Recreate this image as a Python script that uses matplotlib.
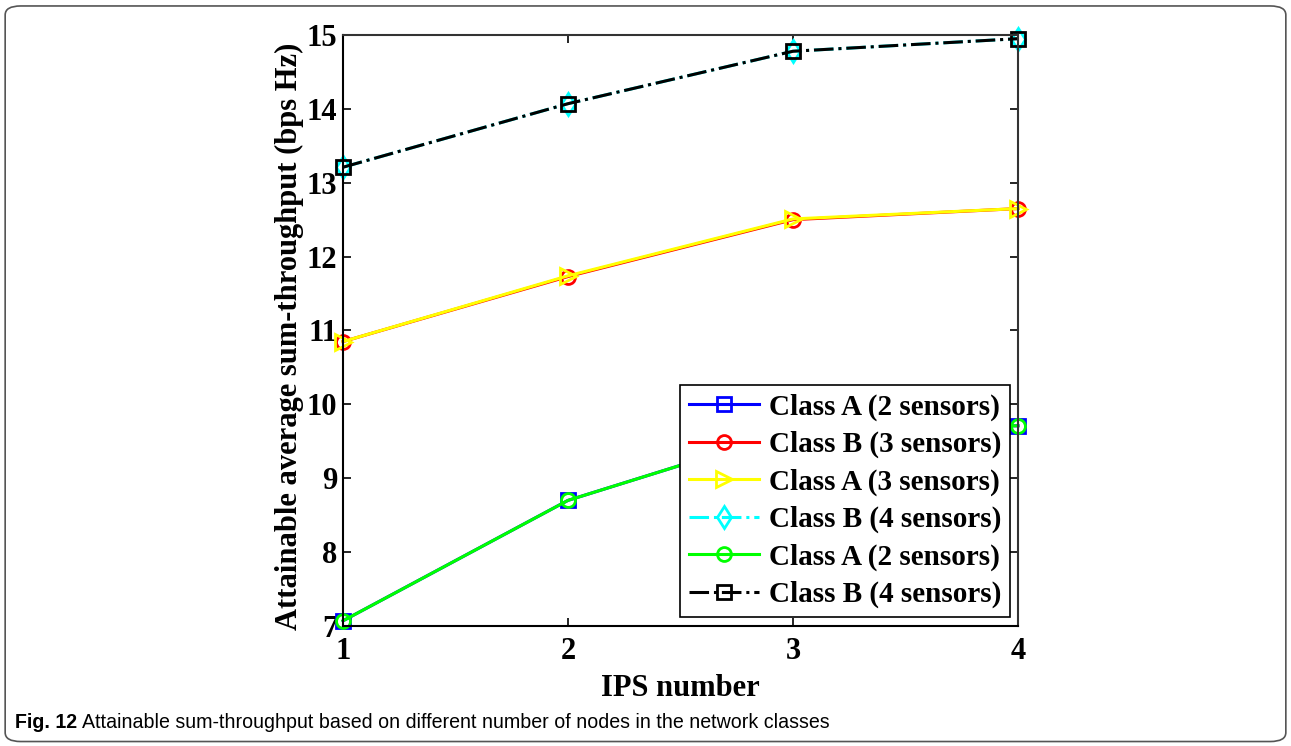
import matplotlib
matplotlib.use('Agg')
import matplotlib.pyplot as plt
from matplotlib.patches import FancyBboxPatch

# data
ips = [1, 2, 3, 4]
class_a_2 = [7.07, 8.70, 9.65, 9.71]
class_b_3 = [10.85, 11.73, 12.50, 12.65]
class_a_3 = [10.85, 11.74, 12.51, 12.65]
class_b_4 = [13.21, 14.07, 14.78, 14.95]
yticks = [7, 8, 9, 10, 11, 12, 13, 14, 15]

labels = ['Class A (2 sensors)', 'Class B (3 sensors)', 'Class A (3 sensors)',
          'Class B (4 sensors)', 'Class A (2 sensors)', 'Class B (4 sensors)']

plt.rcParams['font.family'] = ['Liberation Serif', 'DejaVu Serif']
plt.rcParams['font.weight'] = 'bold'

fig = plt.figure(figsize=(12.91, 7.46), dpi=100)
ax = fig.add_axes([0.2657, 0.1609, 0.5228, 0.7922])

lw = 2.2
ms = 10
mew = 2
common = dict(lw=lw, mew=mew, mfc='none', clip_on=False)
ax.plot(ips, class_a_2, color='#0000ff', marker='s', ls='-', ms=ms, label=labels[0], **common)
ax.plot(ips, class_b_3, color='#ff0000', marker='o', ls='-', ms=ms, label=labels[1], **common)
ax.plot(ips, class_a_3, color='#ffff00', marker='>', ls='-', ms=ms + 2, label=labels[2], **common)
ax.plot(ips, class_b_4, color='#00ffff', marker='d', ls='-.', ms=ms + 1.5, label=labels[3], **common)
ax.plot(ips, class_a_2, color='#00ff00', marker='o', ls='-', ms=ms, label=labels[4], **common)
ax.plot(ips, class_b_4, color='black', marker='s', ls='-.', ms=ms, label=labels[5], **common)

ax.set_xlim(1, 4)
ax.set_ylim(7, 15)
ax.set_xticks(ips)
ax.set_yticks(yticks)
ax.tick_params(direction='in', top=True, right=True, labelsize=22, length=6,
               width=1.2, pad=8)
ax.tick_params(axis='y', pad=4)
for t in ax.get_xticklabels() + ax.get_yticklabels():
    t.set_fontweight('bold')
for s in ax.spines.values():
    s.set_linewidth(1.5)
    s.set_color('#333333')
ax.spines['left'].set_color('black')
ax.spines['bottom'].set_color('black')

ax.set_xlabel('IPS number', fontsize=22, fontweight='bold', labelpad=6)
ax.set_ylabel('Attainable average sum-throughput (bps Hz)', fontsize=22,
              fontweight='bold')
ax.yaxis.set_label_coords(-0.058, 0.49)

leg = ax.legend(loc='lower right', bbox_to_anchor=(0.988, 0.015),
                prop={'weight': 'bold', 'size': 21}, frameon=True, fancybox=False,
                framealpha=1, handlelength=2.4, handletextpad=0.35, labelspacing=0.35,
                borderpad=0.3, borderaxespad=0)
leg.get_frame().set_edgecolor('black')
leg.get_frame().set_linewidth(1.2)
leg.set_zorder(10)

# outer rounded frame
frame = FancyBboxPatch((0.004, 0.006), 0.992, 0.986, transform=fig.transFigure,
                       boxstyle='round,pad=0,rounding_size=0.012',
                       fc='none', ec='#555555', lw=1.2)
fig.patches.append(frame)

# caption
cap1 = fig.text(15 / 1291, 1 - 722 / 746, 'Fig. 12', fontsize=14.1, fontweight='bold',
                family='Liberation Sans', va='center', ha='left')
fig.canvas.draw()
bb = cap1.get_window_extent()
fig.text((bb.x1 + 5) / fig.bbox.width, 1 - 722 / 746,
         'Attainable sum-throughput based on different number of nodes in the network classes',
         fontsize=14.1, fontweight='normal', family='Liberation Sans',
         va='center', ha='left')

fig.savefig('out.png', dpi=100)
